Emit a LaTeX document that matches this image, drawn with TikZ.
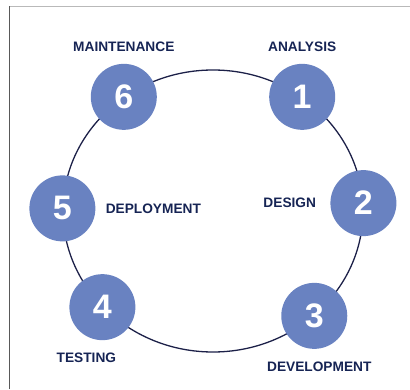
\documentclass[tikz,border=0pt]{standalone}
\usepackage{fontspec}
\setsansfont{Liberation Sans}
\usepackage{tikz}
\usetikzlibrary{positioning,shapes.geometric}
\definecolor{stepblue}{RGB}{105,130,193}
\definecolor{labelnavy}{RGB}{22,36,84}
\definecolor{ringnavy}{RGB}{28,32,72}

\begin{document}
\begin{tikzpicture}[x=1pt,y=1pt,node distance=12pt,
                    step node/.style={circle,minimum size=66pt,inner sep=0pt,fill=stepblue,text=white,font=\sffamily\bfseries\fontsize{34}{34}\selectfont},
                    phase label/.style={inner sep=0pt,text=labelnavy,font=\sffamily\bfseries\fontsize{13.7}{14}\selectfont}]
\useasboundingbox (0,0) rectangle (410,389);
% Create the frame
\draw[gray!55] (9,383) -- (410,383);
\draw[black!65] (9,0) -- (9,383);

% Create the ring
\node[ellipse,draw=ringnavy,line width=1.3pt,minimum width=300pt,minimum height=282pt,inner sep=0pt] (ring) at (213,178) {};

% Create nodes for the steps
\node[step node] (analysis) at (ring.52) {1};
\node[step node] (design) at (ring.3) {2};
\node[step node] (development) at (ring.-46) {3};
\node[step node] (testing) at (ring.-139) {4};
\node[step node] (deployment) at (ring.179) {5};
\node[step node] (maintenance) at (ring.128) {6};

% Create labels for the steps
\node[phase label] (analysis label) [above=of analysis] {ANALYSIS};
\node[phase label] (design label) [left=14pt of design] {DESIGN};
\node[phase label] (development label) [below=13pt of development,xshift=5pt] {DEVELOPMENT};
\node[phase label] (testing label) [below=12pt of testing,xshift=-16pt] {TESTING};
\node[phase label] (deployment label) [right=10pt of deployment] {DEPLOYMENT};
\node[phase label] (maintenance label) [above=of maintenance] {MAINTENANCE};
\end{tikzpicture}
\end{document}
